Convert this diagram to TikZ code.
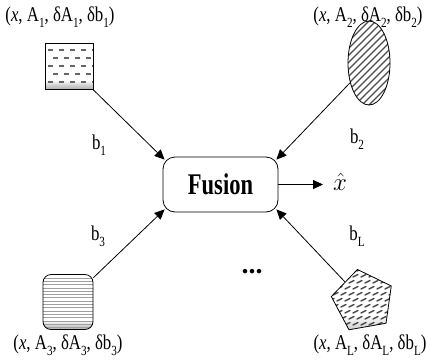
\documentclass[tikz,border=0pt]{standalone}
\usepackage{fontspec}
\setmainfont{Liberation Serif}
\newfontfamily\lblfont[FakeStretch=0.8]{Liberation Serif}
\newfontfamily\fusfont[FakeStretch=0.75]{Liberation Serif}
\usetikzlibrary{shapes.geometric,arrows.meta,calc}
\newcommand{\sbs}[1]{\raisebox{-0.28em}{\fontsize{14}{14}\selectfont #1}}
\tikzset{
  lbl/.style={font=\lblfont\fontsize{21}{22}\selectfont, inner sep=0pt},
  conn/.style={line width=0.8pt, -{Triangle[length=10pt,width=9pt]}},
  shp/.style={draw, line width=0.8pt, fill=white},
  fusbox/.style={draw, line width=0.8pt, rounded corners=12pt, minimum width=115pt, minimum height=55pt,
    font=\fusfont\bfseries\fontsize{30}{30}\selectfont},
}
\begin{document}
\begin{tikzpicture}[x=1pt,y=-1pt]
\useasboundingbox (0,0) rectangle (427,362);

% labels
\node[lbl] (l1) at (60,17) {(\textit{x}, A\sbs{1}, δA\sbs{1}, δb\sbs{1})};
\node[lbl] (l2) at (368,17) {(\textit{x}, A\sbs{2}, δA\sbs{2}, δb\sbs{2})};
\node[lbl] (l3) at (68,345) {(\textit{x}, A\sbs{3}, δA\sbs{3}, δb\sbs{3})};
\node[lbl] (l4) at (370,345) {(\textit{x}, A\sbs{L}, δA\sbs{L}, δb\sbs{L})};

% shape 1: square with small dashes
\node[shp, minimum width=48pt, minimum height=46pt, inner sep=0pt,
  path picture={
    \begin{scope}[shift={(path picture bounding box.center)}]
      \shade[top color=white, bottom color=gray!70] (-30,14) rectangle (30,24);
      \foreach \r in {0,...,4} {
        \pgfmathsetmacro{\yy}{-17+\r*8}
        \pgfmathsetmacro{\off}{mod(\r,2)*5}
        \foreach \c in {0,...,4} {
          \pgfmathsetmacro{\xx}{-21+\off+\c*11}
          \fill[gray!80!black] (\xx,\yy) rectangle ++(5,2);
        }
      }
    \end{scope}
  }] (s1) at (69,66) {};

% shape 2: hatched ellipse
\node[shp, ellipse, minimum width=42pt, minimum height=84pt, inner sep=0pt,
  path picture={
    \begin{scope}[shift={(path picture bounding box.center)}]
      \foreach \i in {-70,-63,...,70} {
        \draw[gray!60!black, line width=1.3pt] (\i-50,50) -- (\i+50,-50);
      }
    \end{scope}
  }] (s2) at (369,63) {};

% shape 3: rounded square with horizontal lines
\node[shp, rounded corners=8pt, minimum width=50pt, minimum height=55pt, inner sep=0pt,
  path picture={
    \begin{scope}[shift={(path picture bounding box.center)}]
      \shade[top color=white, bottom color=gray!80] (-30,18) rectangle (30,30);
      \foreach \i in {-24,-20.7,...,26} {
        \draw[gray!75, line width=0.7pt] (-30,\i) -- (30,\i);
      }
    \end{scope}
  }] (s3) at (68,302) {};

% shape 4: pentagon with slanted dashes
\node[shp, regular polygon, regular polygon sides=5, regular polygon rotate=10,
  minimum size=64pt, inner sep=0pt,
  path picture={
    \begin{scope}[shift={(path picture bounding box.center)}]
      \shade[top color=white, bottom color=gray!70] (-40,14) rectangle (40,40);
      \foreach \r in {0,...,9} {
        \pgfmathsetmacro{\yy}{-30+\r*6}
        \foreach \c in {0,...,9} {
          \pgfmathsetmacro{\xx}{-38+\c*8+mod(\r,2)*4}
          \draw[gray!60!black, line width=1.4pt, line cap=round] (\xx,\yy) -- ++(5,-2.5);
        }
      }
    \end{scope}
  }] (s4) at (363,301) {};

% fusion box
\node[fusbox] (f) at (220.5,184.5) {Fusion};
\coordinate (out) at (323,184.5);
\node[font=\fontsize{24}{24}\selectfont, inner sep=0pt, anchor=west] (xh) at (333,182) {$\hat{x}$};

% connectors
\draw[conn] (s1) -- ($(f.north west)+(2,3)$);
\draw[conn] (s2) -- ($(f.north east)+(-2,3)$);
\draw[conn] (s3) -- ($(f.south west)+(2,-3)$);
\draw[conn] (s4) -- ($(f.south east)+(-2,-3)$);
\draw[conn] (f.east) -- (out);

% edge labels
\node[lbl] (b1) at (99,145) {b\sbs{1}};
\node[lbl] (b2) at (357,139) {b\sbs{2}};
\node[lbl] (b3) at (98,236) {b\sbs{3}};
\node[lbl] (bL) at (357,236) {b\sbs{L}};

% dots
\node[font=\fontsize{28}{28}\selectfont\bfseries, inner sep=0pt] (dots) at (252,272) {...};
\end{tikzpicture}
\end{document}
